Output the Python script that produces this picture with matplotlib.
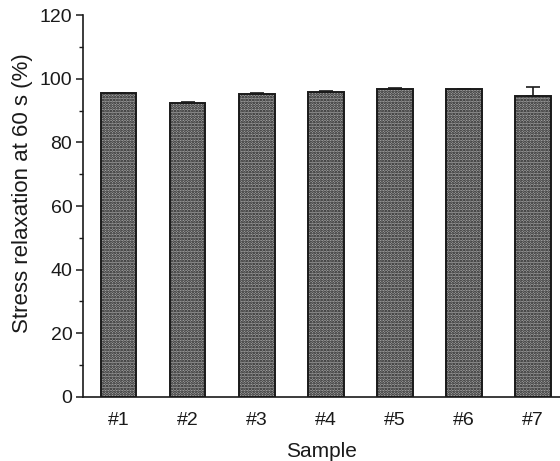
import matplotlib
matplotlib.use("Agg")
import matplotlib.pyplot as plt
from matplotlib.ticker import MultipleLocator

categories = ["#1", "#2", "#3", "#4", "#5", "#6", "#7"]
values = [95.4, 92.4, 95.1, 95.9, 96.9, 96.7, 94.7]
errors = [0.3, 0.4, 0.3, 0.4, 0.3, 0.2, 2.8]

plt.rcParams['font.family'] = ['Liberation Sans', 'DejaVu Sans']
plt.rcParams['hatch.linewidth'] = 1.3
plt.rcParams['hatch.color'] = '#222222'

fig = plt.figure(figsize=(5.6, 4.61), dpi=100)
ax = fig.add_axes([0.149, 0.139, 0.851, 0.828])

x = list(range(1, len(categories) + 1))
ax.bar(x, values, width=0.514, color='#a4a4a4', edgecolor='#1a1a1a',
       linewidth=1.4, hatch='......', zorder=2)
ax.errorbar(x, values, yerr=[[0]*len(errors), errors], fmt='none',
            ecolor='#1a1a1a', elinewidth=1.2, capsize=5, capthick=1.2, zorder=3)

ax.set_xlim(0.49, 7.39)
ax.set_ylim(0, 120)
ax.yaxis.set_major_locator(MultipleLocator(20))
ax.yaxis.set_minor_locator(MultipleLocator(10))
ax.set_xticks(x)
ax.set_xticklabels(categories)
ax.tick_params(axis='x', length=0, pad=11, labelsize=14, colors='#1a1a1a')
ax.tick_params(axis='y', which='major', length=5, width=1.1, labelsize=14,
               colors='#1a1a1a', pad=3)
ax.tick_params(axis='y', which='minor', length=3, width=1.0, colors='#1a1a1a')

for s in ['top', 'right']:
    ax.spines[s].set_visible(False)
for s in ['left', 'bottom']:
    ax.spines[s].set_linewidth(1.2)
    ax.spines[s].set_color('#1a1a1a')

ax.set_xlabel('Sample', fontsize=15, color='#1a1a1a', labelpad=9)
ax.set_ylabel('Stress relaxation at 60 s (%)', fontsize=16, color='#1a1a1a')
ax.yaxis.set_label_coords(-0.105, 0.534)

fig.savefig('out.png', dpi=100)
